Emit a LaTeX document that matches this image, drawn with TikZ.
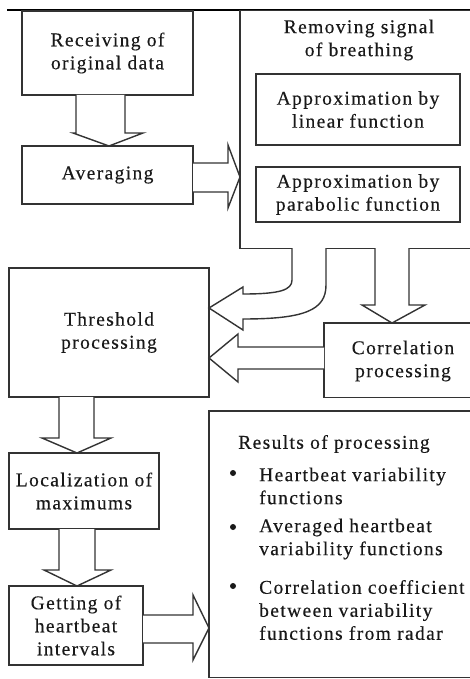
\documentclass[tikz,border=0pt]{standalone}
\usepackage{fontspec}
\setmainfont{Liberation Serif}[LetterSpace=7, FakeBold=0.3]
\begin{document}
\begin{tikzpicture}[x=1pt,y=-1pt,
  every node/.style={font=\fontsize{19.5}{23}\selectfont, text=black!90, inner sep=0pt},
  box/.style={draw=black!80, line width=1.4pt, align=center},
  openbox/.style={align=center},
  edge3/.style={draw=black!80, line width=1.4pt},
  blk/.style={draw=black!80, line width=1.4pt, fill=white, line join=miter},
  bul/.style={fill=black!90, circle, minimum size=6pt, inner sep=0pt}]
\useasboundingbox (0,0) rectangle (470,679);
\clip (0,0) rectangle (470,679);
\fill[white] (0,0) rectangle (470,679);
% top rule
\draw[black, line width=2.2pt] (7,10) -- (490,10);
% boxes
\node[box, minimum width=171pt, minimum height=84pt] (rec) at (107.5,53) {Receiving of\\original data};
\node[box, minimum width=171pt, minimum height=58pt] (avg) at (107.5,175) {Averaging};
\node[openbox, minimum width=250pt, minimum height=237pt] (rem) at (365,129.5) {};
\draw[edge3] (rem.north east) -- (rem.north west) -- (rem.south west) -- (rem.south east);
\node[align=center] (remt) at (359,40) {Removing signal\\of breathing};
\node[box, minimum width=204pt, minimum height=71pt] (lin) at (358,109.5) {Approximation by\\linear function};
\node[box, minimum width=204pt, minimum height=55pt] (par) at (358,194.5) {Approximation by\\parabolic function};
\node[box, minimum width=200pt, minimum height=129pt] (thr) at (109,332.5) {Threshold\\processing};
\node[openbox, minimum width=170pt, minimum height=74pt] (cor) at (409,360) {};
\draw[edge3] (cor.north east) -- (cor.north west) -- (cor.south west) -- (cor.south east);
\node[align=center] (cort) at (403,361) {Correlation\\processing};
\node[openbox, minimum width=290pt, minimum height=266pt] (res) at (354,544) {};
\draw[edge3] (res.north east) -- (res.north west) -- (res.south west) -- (res.south east);
\node[box, minimum width=150pt, minimum height=76pt] (loc) at (84,491) {Localization of\\maximums};
\node[box, minimum width=134pt, minimum height=79pt] (get) at (76,625.5) {Getting of\\heartbeat\\intervals};
% results contents
\node (rest) at (334,444) {Results of processing};
\node[bul] (b1) at (233,473) {};
\node[bul] (b2) at (233,527) {};
\node[bul] (b3) at (233,586) {};
\node[anchor=west, align=left] (i1) at (259,486) {Heartbeat variability\\functions};
\node[anchor=west, align=left] (i2) at (259,539) {Averaged heartbeat\\variability functions};
\node[anchor=west, align=left] (i3) at (259,610) {Correlation coefficient\\between variability\\functions from radar};
% block arrows
\draw[blk] (76,95) -- (76,133) -- (73,133) -- (109,146) -- (143,133) -- (125,133) -- (125,95);
\draw[blk] (193,163) -- (228,163) -- (228,145) -- (240,177) -- (228,208) -- (228,192) -- (193,192);
\draw[blk] (292,248) -- (292,280) .. controls (292,290) and (280,294) .. (243,294)
  -- (243,287) -- (209,308) -- (243,330) -- (243,319)
  .. controls (305,319) and (326,310) .. (326,285) -- (326,248);
\draw[blk] (375,248) -- (375,305) -- (362,305) -- (392,323) -- (425,305) -- (409,305) -- (409,248);
\draw[blk] (324,347) -- (238,347) -- (238,334) -- (209,358) -- (238,382) -- (238,369) -- (324,369);
\draw[blk] (59,397) -- (59,438) -- (42,438) -- (77,453) -- (111,438) -- (94,438) -- (94,397);
\draw[blk] (59,529) -- (59,570) -- (44,570) -- (77,586) -- (111,570) -- (95,570) -- (95,529);
\draw[blk] (143,615) -- (193,615) -- (193,595) -- (209,628) -- (193,660) -- (193,643) -- (143,643);
\end{tikzpicture}
\end{document}
